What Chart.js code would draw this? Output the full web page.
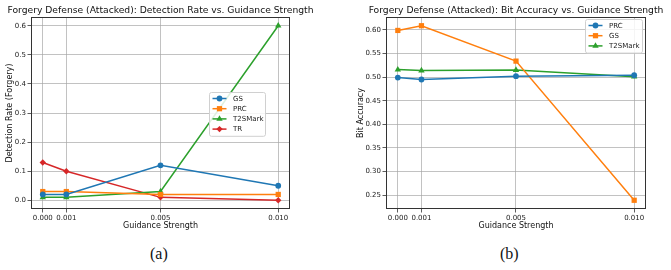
<!doctype html>
<html lang="en">

<head>
    <meta charset="utf-8">
    <title>Forgery Defense (Attacked)</title>
    <script src="https://cdn.jsdelivr.net/npm/chart.js@4.4.1/dist/chart.umd.min.js"></script>
    <style>
        body { margin: 0; background: #fff; width: 671px; height: 270px; position: relative; overflow: hidden; }
        canvas { position: absolute; top: 0; }
        #cA { left: 0; }
        #cB { left: 335px; }
        .cap { position: absolute; top: 245px; font-family: "Liberation Serif", serif; font-size: 16px; color: #111; }
    </style>
</head>

<body>
    <canvas id="cA" width="335" height="235"></canvas>
    <canvas id="cB" width="336" height="235"></canvas>
    <div class="cap" style="left:150px">(a)</div>
    <div class="cap" style="left:500px">(b)</div>

    <script>
        // ---- data ----
        const guidance = [0.000, 0.001, 0.005, 0.010];
        const xTicks = [0.000, 0.001, 0.005, 0.010];

        // (a) detection rate
        const detGS = [0.02, 0.02, 0.12, 0.05];
        const detPRC = [0.03, 0.03, 0.02, 0.02];
        const detT2S = [0.01, 0.01, 0.03, 0.60];
        const detTR = [0.13, 0.10, 0.01, 0.00];
        const detTicks = [0.0, 0.1, 0.2, 0.3, 0.4, 0.5, 0.6];

        // (b) bit accuracy
        const bitPRC = [0.499, 0.495, 0.502, 0.504];
        const bitGS = [0.599, 0.609, 0.534, 0.239];
        const bitT2S = [0.516, 0.514, 0.515, 0.501];
        const bitTicks = [0.25, 0.30, 0.35, 0.40, 0.45, 0.50, 0.55, 0.60];

        const BLUE = '#1f77b4', ORANGE = '#ff7f0e', GREEN = '#2ca02c', RED = '#d62728';
        const FONT = 'DejaVu Sans';
        // marker sizes per style, so the shapes look alike
        const RADIUS = { circle: 2.9, rect: 3.7, triangle: 3.7, rectRot: 3.2 };

        function pts(ys) {
            return guidance.map(function (x, i) { return { x: x, y: ys[i] }; });
        }

        function series(label, ys, color, style) {
            return {
                label: label,
                data: pts(ys),
                borderColor: color,
                backgroundColor: color,
                borderWidth: 1.5,
                pointStyle: style,
                pointRadius: RADIUS[style],
                pointBorderWidth: 0,
                pointHoverRadius: RADIUS[style],
                clip: false,
                tension: 0
            };
        }

        // frame (all four spines) + title centred on the axes
        const framePlugin = {
            id: 'frame',
            afterDraw(chart, args, opts) {
                const a = chart.chartArea, ctx = chart.ctx;
                ctx.save();
                ctx.strokeStyle = '#333';
                ctx.lineWidth = 1;
                ctx.strokeRect(Math.round(a.left) + 0.5, Math.round(a.top) + 0.5,
                    Math.round(a.right - a.left) - 1, Math.round(a.bottom - a.top) - 1);
                ctx.fillStyle = '#111';
                ctx.font = '9.2px "' + FONT + '"';
                ctx.textAlign = 'center';
                ctx.textBaseline = 'middle';
                ctx.fillText(opts.text, (a.left + a.right) / 2, 10.5);
                ctx.restore();
            }
        };

        // matplotlib-like legend box
        const boxLegend = {
            id: 'boxLegend',
            afterDraw(chart, args, opts) {
                const ctx = chart.ctx;
                const sets = chart.data.datasets;
                const x = opts.x, y = opts.y, w = opts.w, rowH = 10.2;
                const h = sets.length * rowH + 3;
                ctx.save();
                ctx.fillStyle = 'rgba(255,255,255,0.85)';
                ctx.strokeStyle = '#d0d0d0';
                ctx.lineWidth = 1;
                ctx.beginPath();
                ctx.roundRect(x + 0.5, y + 0.5, w, h, 2);
                ctx.fill();
                ctx.stroke();
                ctx.font = '7px "' + FONT + '"';
                ctx.textBaseline = 'middle';
                sets.forEach(function (ds, i) {
                    const cy = y + 6.5 + i * rowH;
                    ctx.strokeStyle = ds.borderColor;
                    ctx.lineWidth = 1.5;
                    ctx.beginPath();
                    ctx.moveTo(x + 3.5, cy);
                    ctx.lineTo(x + 17.5, cy);
                    ctx.stroke();
                    ctx.fillStyle = ds.backgroundColor;
                    Chart.helpers.drawPoint(ctx, {
                        pointStyle: ds.pointStyle, radius: ds.pointRadius, rotation: 0, borderWidth: 0
                    }, x + 10.5, cy);
                    ctx.fillStyle = '#222';
                    ctx.fillText(ds.label, x + 24, cy + 0.5);
                });
                ctx.restore();
            }
        };

        function makeChart(id, datasets, cfg) {
            return new Chart(document.getElementById(id), {
                type: 'line',
                data: { datasets: datasets },
                options: {
                    responsive: false,
                    animation: false,
                    layout: { padding: { left: cfg.padLeft, right: cfg.padRight, top: 17, bottom: 0 } },
                    plugins: {
                        legend: { display: false },
                        tooltip: { enabled: false },
                        frame: { text: cfg.title },
                        boxLegend: cfg.legend
                    },
                    scales: {
                        x: {
                            type: 'linear',
                            min: -0.0005,
                            max: 0.0105,
                            afterBuildTicks: function (s) { s.ticks = xTicks.map(function (v) { return { value: v }; }); },
                            afterFit: function (s) { s.height = 26; },
                            ticks: {
                                autoSkip: false, maxRotation: 0, padding: 1,
                                color: '#222', font: { family: FONT, size: 7 },
                                callback: function (v) { return v.toFixed(3); }
                            },
                            grid: {
                                color: 'rgba(165,165,165,0.85)', lineWidth: 0.8, borderDash: [1.6, 1.6],
                                drawTicks: true, tickLength: 3.5, tickColor: '#333', tickWidth: 0.8
                            },
                            border: { display: false },
                            title: {
                                display: true, text: 'Guidance Strength', color: '#111',
                                font: { family: FONT, size: 8 }, padding: { top: 2, bottom: 4 }
                            }
                        },
                        y: {
                            min: cfg.yMin,
                            max: cfg.yMax,
                            afterBuildTicks: function (s) { s.ticks = cfg.yTicks.map(function (v) { return { value: v }; }); },
                            afterFit: function (s) { s.width = cfg.yWidth; },
                            ticks: {
                                padding: 1.5, color: '#222', font: { family: FONT, size: 7 },
                                callback: function (v) { return v.toFixed(cfg.dec); }
                            },
                            grid: {
                                color: 'rgba(165,165,165,0.85)', lineWidth: 0.8, borderDash: [1.6, 1.6],
                                drawTicks: true, tickLength: 3.5, tickColor: '#333', tickWidth: 0.8
                            },
                            border: { display: false },
                            title: {
                                display: true, text: cfg.yLabel, color: '#111',
                                font: { family: FONT, size: 8 }, padding: { top: 5, bottom: 2 }
                            }
                        }
                    }
                },
                plugins: [framePlugin, boxLegend]
            });
        }

        makeChart('cA', [
            series('GS', detGS, BLUE, 'circle'),
            series('PRC', detPRC, ORANGE, 'rect'),
            series('T2SMark', detT2S, GREEN, 'triangle'),
            series('TR', detTR, RED, 'rectRot')
        ], {
            title: 'Forgery Defense (Attacked): Detection Rate vs. Guidance Strength',
            yLabel: 'Detection Rate (Forgery)',
            yMin: -0.03, yMax: 0.63, yTicks: detTicks, dec: 1,
            padLeft: 0, padRight: 45, yWidth: 31,
            legend: { x: 209, y: 92, w: 56 }
        });

        makeChart('cB', [
            series('PRC', bitPRC, BLUE, 'circle'),
            series('GS', bitGS, ORANGE, 'rect'),
            series('T2SMark', bitT2S, GREEN, 'triangle')
        ], {
            title: 'Forgery Defense (Attacked): Bit Accuracy vs. Guidance Strength',
            yLabel: 'Bit Accuracy',
            yMin: 0.2205, yMax: 0.6275, yTicks: bitTicks, dec: 2,
            padLeft: 16, padRight: 25, yWidth: 35,
            legend: { x: 250, y: 19, w: 57 }
        });
    </script>
</body>

</html>
